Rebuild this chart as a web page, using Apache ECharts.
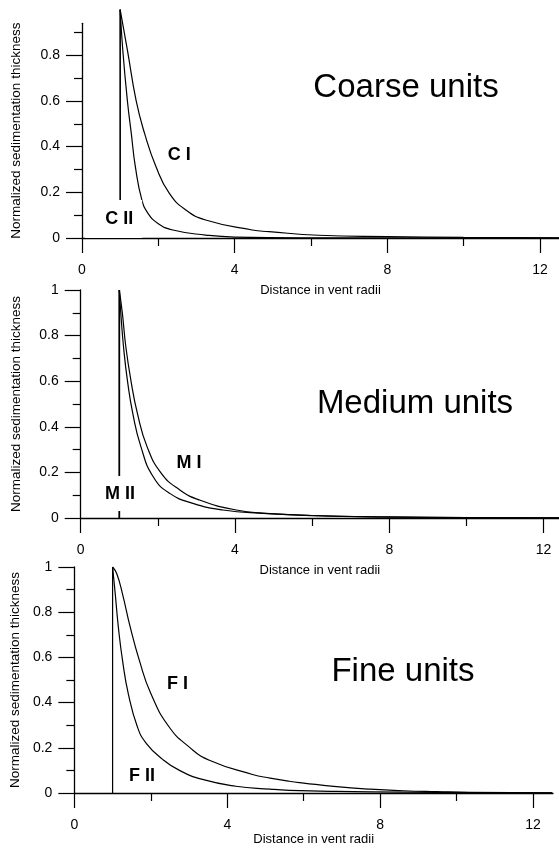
<!DOCTYPE html>
<html>
<head>
<meta charset="utf-8">
<script src="https://cdn.jsdelivr.net/npm/echarts@6/dist/echarts.min.js"></script>
<style>
html, body { margin: 0; padding: 0; background: #fff; }
#main { width: 559px; height: 855px; }
</style>
</head>
<body>
<div id="main"></div>
<script>
// tick values
var xTicks = [0, 4, 8, 12];
var xMinor = [2, 6, 10];
var yTicksTop = [0, 0.2, 0.4, 0.6, 0.8];
var yTicks = [0, 0.2, 0.4, 0.6, 0.8, 1];
var yMinor = [0.1, 0.3, 0.5, 0.7, 0.9];

var panelTitles = ['Coarse units', 'Medium units', 'Fine units'];
var ventRadius = 1;

// coarse units
var cIx = [1, 1.19, 1.42, 1.64, 1.94, 2.29, 2.72, 3.24, 4.46, 4.9, 6.2, 8, 10, 12.5];
var cIy = [1, 0.823, 0.60, 0.458, 0.312, 0.195, 0.123, 0.079, 0.035, 0.028, 0.012, 0.006, 0.003, 0.001];
var cIIx = [1, 1.07, 1.19, 1.29, 1.40, 1.57, 1.73, 1.99, 2.38, 3.24, 4.0, 6, 12.5];
var cIIy = [1, 0.82, 0.60, 0.46, 0.31, 0.166, 0.108, 0.064, 0.035, 0.013, 0.004, 0.001, 0];

// medium units
var mIx = [1, 1.08, 1.17, 1.30, 1.47, 1.72, 2.09, 2.57, 3.08, 4.03, 4.8, 6, 8, 10, 12.4];
var mIy = [1, 0.898, 0.751, 0.605, 0.459, 0.313, 0.196, 0.123, 0.079, 0.035, 0.020, 0.011, 0.005, 0.002, 0.001];
var mIIx = [1, 1.04, 1.11, 1.21, 1.35, 1.56, 1.88, 2.31, 2.91, 3.69, 4.72, 6, 8, 10, 12.4];
var mIIy = [1, 0.898, 0.751, 0.605, 0.459, 0.313, 0.181, 0.108, 0.064, 0.035, 0.020, 0.010, 0.004, 0.002, 0.001];

// fine units
var fIx = [1, 1.11, 1.26, 1.46, 1.70, 2.00, 2.48, 3.00, 3.53, 4.66, 5.12, 5.62, 6.0, 6.86, 7.74, 8.61, 9.48, 10.35, 12.5];
var fIy = [1, 0.97, 0.88, 0.735, 0.587, 0.44, 0.292, 0.204, 0.145, 0.082, 0.066, 0.052, 0.044, 0.028, 0.017, 0.010, 0.006, 0.003, 0.001];
var fIIx = [1, 1.07, 1.15, 1.26, 1.41, 1.65, 1.88, 2.30, 2.75, 3.35, 4.22, 5.12, 5.62, 6.86, 8.61, 10.35, 12.5];
var fIIy = [1, 0.88, 0.735, 0.587, 0.44, 0.292, 0.22, 0.15, 0.10, 0.06, 0.03, 0.017, 0.012, 0.007, 0.004, 0.002, 0.001];

// curve labels: [x, y, text]
var curveLabels = [
  [[2.55, 0.363, 'C I']],
  [[2.81, 0.24, 'M I']],
  [[2.70, 0.48, 'F I'], [1.77, 0.074, 'F II']]
];
// labels in a white box that hides the vent line: [panel, x, y, text, padding]
var boxLabels = [
  [0, 0.83, 0.083, 'C II', [11, 9, 9, 20]],
  [1, 1.02, 0.107, 'M II', [13, 6, 4, 6]]
];

var font = "'Liberation Sans', Arial, sans-serif";

function zip(xs, ys) {
  var out = [];
  for (var i = 0; i < xs.length; i++) {
    out.push([xs[i], ys[i]]);
  }
  return out;
}

var myChart = echarts.init(document.getElementById('main'));

var grids = [
  { left: 82, top: 23.3, width: 480, height: 214.7 },
  { left: 80.7, top: 290, width: 480.5, height: 228 },
  { left: 74, top: 567, width: 479, height: 226 }
];
var xMax = [12.5, 12.4, 12.52];
var yMax = [0.94, 1, 1];
var yNameGap = [59, 57, 51];
var xNameGap = [46, 46, 38];
var titlePos = [[406, 88], [415, 404], [403, 672]];

var xAxes = [];
var yAxes = [];
var series = [];
var graphics = [];

for (var i = 0; i < 3; i++) {
  // main x axis
  xAxes.push({
    gridIndex: i,
    type: 'value',
    min: 0,
    max: xMax[i],
    name: 'Distance in vent radii',
    nameLocation: 'middle',
    nameGap: xNameGap[i],
    nameTextStyle: { color: '#000', fontSize: 13, fontFamily: font },
    axisLine: { lineStyle: { color: '#000', width: 1.3 } },
    axisTick: { customValues: xTicks, length: 15, lineStyle: { color: '#000', width: 1.2 } },
    axisLabel: { customValues: xTicks, margin: 25, color: '#000', fontSize: 14, fontFamily: font },
    splitLine: { show: false }
  });
  // minor x ticks
  xAxes.push({
    gridIndex: i,
    type: 'value',
    min: 0,
    max: xMax[i],
    position: 'bottom',
    axisLine: { show: false },
    axisTick: { customValues: xMinor, length: 8, lineStyle: { color: '#000', width: 1.2 } },
    axisLabel: { show: false },
    splitLine: { show: false }
  });
  yAxes.push({
    gridIndex: i,
    type: 'value',
    min: 0,
    max: yMax[i],
    name: 'Normalized sedimentation thickness',
    nameLocation: 'middle',
    nameGap: yNameGap[i],
    nameTextStyle: { color: '#000', fontSize: 13.5, fontFamily: font },
    axisLine: { show: true, lineStyle: { color: '#000', width: 1.3 } },
    axisTick: { customValues: i == 0 ? yTicksTop : yTicks, length: 16, lineStyle: { color: '#000', width: 1.2 } },
    axisLabel: { customValues: i == 0 ? yTicksTop : yTicks, margin: 22, color: '#000', fontSize: 14, fontFamily: font },
    splitLine: { show: false }
  });
  yAxes.push({
    gridIndex: i,
    type: 'value',
    min: 0,
    max: yMax[i],
    position: 'left',
    axisLine: { show: false },
    axisTick: { customValues: yMinor, length: 8, lineStyle: { color: '#000', width: 1.2 } },
    axisLabel: { show: false },
    splitLine: { show: false }
  });
  graphics.push({
    type: 'text',
    x: titlePos[i][0],
    y: titlePos[i][1],
    style: {
      text: panelTitles[i],
      fill: '#000',
      font: '33px ' + font,
      textAlign: 'center',
      textVerticalAlign: 'middle'
    }
  });
}

function curve(idx, data, w) {
  return {
    type: 'line',
    xAxisIndex: idx * 2,
    yAxisIndex: idx * 2,
    data: data,
    showSymbol: false,
    symbol: 'none',
    smooth: 0.5,
    clip: false,
    silent: true,
    z: 3,
    lineStyle: { color: '#000', width: w || 1.2 }
  };
}

series.push(curve(0, zip(cIx, cIy)));
series.push(curve(0, zip(cIIx, cIIy)));
series.push(curve(1, zip(mIx, mIy)));
series.push(curve(1, zip(mIIx, mIIy)));
series.push(curve(2, zip(fIx, fIy)));
series.push(curve(2, zip(fIIx, fIIy)));

// vertical line at the vent edge
var ventW = [1.6, 1.8, 1.2];
for (var i = 0; i < 3; i++) {
  var v = curve(i, [[ventRadius, 0], [ventRadius, 1]], ventW[i]);
  v.smooth = false;
  series.push(v);
}

// curve labels
for (var i = 0; i < 3; i++) {
  var pts = [];
  for (var k = 0; k < curveLabels[i].length; k++) {
    pts.push({ name: curveLabels[i][k][2], value: [curveLabels[i][k][0], curveLabels[i][k][1]] });
  }
  series.push({
    type: 'scatter',
    xAxisIndex: i * 2,
    yAxisIndex: i * 2,
    symbolSize: 0,
    silent: true,
    z: 10,
    itemStyle: { opacity: 1 },
    label: { show: true, position: 'inside', formatter: '{b}', color: '#000', fontSize: 18, fontWeight: 'bold', fontFamily: font },
    data: pts
  });
}

var option = {
  backgroundColor: '#fff',
  animation: false,
  grid: grids,
  xAxis: xAxes,
  yAxis: yAxes,
  series: series,
  graphic: graphics
};
myChart.setOption(option);

// boxed labels, placed through the axes after layout
for (var k = 0; k < boxLabels.length; k++) {
  var b = boxLabels[k];
  var p = myChart.convertToPixel({ xAxisIndex: b[0] * 2, yAxisIndex: b[0] * 2 }, [b[1], b[2]]);
  graphics.push({
    type: 'text',
    x: p[0],
    y: p[1],
    z: 100,
    style: {
      text: b[3],
      fill: '#000',
      font: 'bold 18px ' + font,
      textAlign: 'center',
      textVerticalAlign: 'middle',
      backgroundColor: '#fff',
      padding: b[4]
    }
  });
}
myChart.setOption({ graphic: graphics });
</script>
</body>
</html>
